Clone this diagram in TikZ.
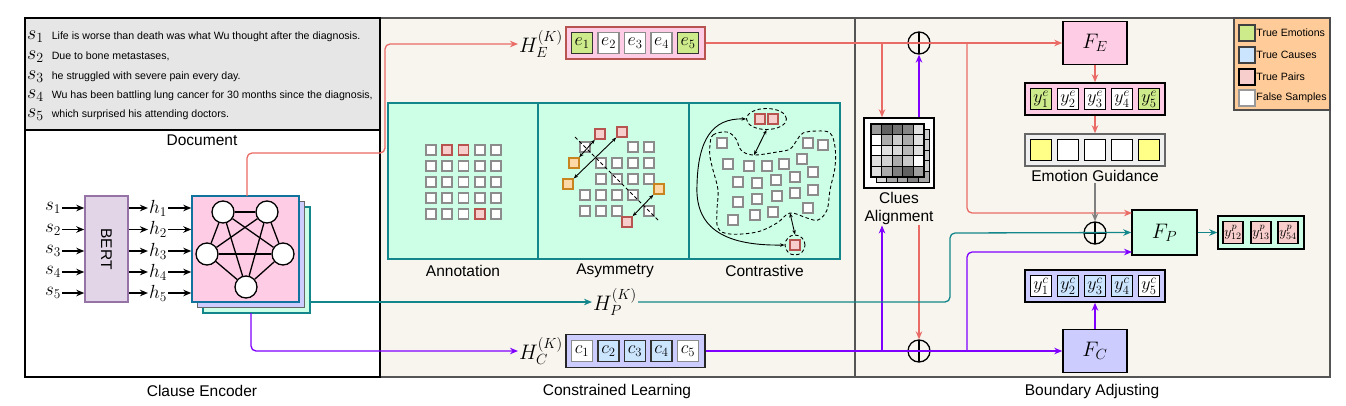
\documentclass[tikz,border=0pt]{standalone}
\usepackage{fix-cm}
\usepackage{fontspec}
\setmainfont{Liberation Sans}
\usetikzlibrary{arrows.meta,shapes.geometric}

\definecolor{redl}{HTML}{EA6B66}
\definecolor{purl}{HTML}{7F00FF}
\definecolor{teall}{HTML}{12868A}
\definecolor{beigef}{HTML}{F8F5EE}
\definecolor{docg}{HTML}{E6E6E6}
\definecolor{mintf}{HTML}{CCFFE6}
\definecolor{pinkf}{HTML}{FFCCE6}
\definecolor{lavf}{HTML}{CCCCFF}
\definecolor{greenf}{HTML}{CDEB8B}
\definecolor{bluef}{HTML}{CCE5FF}
\definecolor{pairf}{HTML}{F8CECC}
\definecolor{paird}{HTML}{B85450}
\definecolor{oranf}{HTML}{FFD8A8}
\definecolor{orand}{HTML}{C8841E}
\definecolor{bertf}{HTML}{E1D5E7}
\definecolor{bertd}{HTML}{9673A6}
\definecolor{legf}{HTML}{FFCC99}
\definecolor{yelf}{HTML}{FFFF88}
\definecolor{gnnd}{HTML}{10739E}
\definecolor{frameg}{HTML}{555555}
\definecolor{egf}{HTML}{EFEFEF}

\newcommand{\mysl}[1]{{\fontsize{20}{20}\selectfont$s_{#1}$}\hspace{8pt}}

\begin{document}
\begin{tikzpicture}[x=1pt,y=-1pt,
  lbl/.style={font=\fontsize{15.5}{17}\selectfont, inner sep=1pt},
  mth/.style={font=\fontsize{19}{19}\selectfont, inner sep=1pt},
  hl/.style={font=\fontsize{21}{21}\selectfont, inner sep=1pt},
  doct/.style={font=\fontsize{10.6}{12}\selectfont, anchor=west, inner sep=0pt},
  arr/.style={-{Stealth[length=8pt,width=6.5pt]}, line width=1.3pt},
  dbl/.style={{Stealth[length=4.5pt,width=3.5pt]}-{Stealth[length=4.5pt,width=3.5pt]}, line width=0.9pt},
  box/.style={rectangle, inner sep=0, line width=1.5pt},
  bsq/.style={rectangle, minimum size=21pt, inner sep=0, line width=1.5pt, draw=black!85, font=\fontsize{18}{18}\selectfont},
  ss/.style={rectangle, minimum size=10pt, inner sep=0, line width=1.6pt, draw=black!45, fill=white},
  sp/.style={ss, draw=paird, fill=pairf},
  so/.style={ss, draw=orand, fill=oranf},
  gnode/.style={circle, minimum size=22pt, inner sep=0, draw, line width=1.3pt, fill=white},
  oplus/.style={circle, minimum size=22pt, inner sep=0, draw, line width=1.3pt,
    path picture={\draw[line width=1.3pt] (path picture bounding box.north) -- (path picture bounding box.south)
      (path picture bounding box.west) -- (path picture bounding box.east);}},
  dsh/.style={dash pattern=on 3.5pt off 2.5pt, line width=0.9pt},
  leglbl/.style={font=\fontsize{10.6}{12}\selectfont, anchor=west, inner sep=0.5pt},
  lsq/.style={rectangle, minimum size=16pt, inner sep=0, line width=1.5pt},
  fbox/.style={box, draw=black, font=\fontsize{21}{21}\selectfont},
]
\fill[white] (0,0) rectangle (1346,405);
\useasboundingbox (0,0) rectangle (1346,405);

% ---------- panels ----------
\draw[frameg, fill=beigef, line width=1.5pt] (380,18) rectangle (855,377);
\draw[frameg, fill=beigef, line width=1.5pt] (855,18) rectangle (1330,377);
\draw[fill=docg, line width=1.2pt] (25,18) rectangle (380,130);
\draw[line width=2pt] (25,18) rectangle (380,377);

\node[lbl] (tce) at (202,391) {Clause Encoder};
\node[lbl] (tcl) at (617,391) {Constrained Learning};
\node[lbl] (tba) at (1092,391) {Boundary Adjusting};
\node[lbl] (tdoc) at (202,140) {Document};

% ---------- document ----------
\node[doct] (d1) at (27,37) {\mysl{1}Life is worse than death was what Wu thought after the diagnosis.};
\node[doct] (d2) at (27,57) {\mysl{2}Due to bone metastases,};
\node[doct] (d3) at (27,77) {\mysl{3}he struggled with severe pain every day.};
\node[doct] (d4) at (27,96) {\mysl{4}Wu has been battling lung cancer for 30 months since the diagnosis,};
\node[doct] (d5) at (27,115) {\mysl{5}which surprised his attending doctors.};

% ---------- clause encoder ----------
\node[box, draw=bertd, fill=bertf, minimum width=43pt, minimum height=106pt] (bert) at (106.5,249)
  {\rotatebox{-90}{\fontsize{15.5}{17}\selectfont BERT}};
\node[box, draw=teall, fill=mintf, minimum width=107pt, minimum height=106pt] (gC) at (256.5,260) {};
\node[box, draw=black!60, fill=lavf, minimum width=107pt, minimum height=106pt] (gB) at (251,254.5) {};
\node[box, draw=gnnd, fill=pinkf, minimum width=107pt, minimum height=106pt] (gA) at (245.5,249) {};

\node[gnode] (n1) at (223,212) {};
\node[gnode] (n2) at (267,212) {};
\node[gnode] (n3) at (207,254) {};
\node[gnode] (n4) at (283,254) {};
\node[gnode] (n5) at (246,287) {};
\foreach \a/\b in {n1/n2,n1/n3,n1/n4,n1/n5,n2/n3,n2/n4,n2/n5,n3/n4,n3/n5,n4/n5}
  \draw[line width=1.3pt] (\a) -- (\b);

\foreach \i/\y in {1/208,2/229.5,3/251,4/272,5/293} {
  \node[mth] (s\i) at (53,\y) {$s_{\i}$};
  \node[mth] (h\i) at (158,\y) {$h_{\i}$};
  \draw[arr] (s\i.east) -- (s\i.east -| bert.west);
  \draw[arr] (bert.east |- h\i.west) -- (h\i.west);
  \draw[arr] (h\i.east) -- (h\i.east -| gA.west);
}

% ---------- constrained learning ----------
\node[hl] (HE) at (541,44) {$H_E^{(K)}$};
\node[box, draw=paird, fill=pinkf, minimum width=139pt, minimum height=32pt] (ebox) at (635.5,43) {};
\foreach \i/\x/\f/\d in {1/582/greenf/black!80, 2/608.5/white/black!45, 3/635/white/black!45, 4/661.5/white/black!45, 5/688/greenf/black!80}
  \node[bsq, fill=\f, draw=\d] (e\i) at (\x,43) {$e_{\i}$};

\node[hl] (HP) at (615,302) {$H_P^{(K)}$};

\node[hl] (HC) at (541,351) {$H_C^{(K)}$};
\node[box, draw=black!85, fill=lavf, minimum width=139pt, minimum height=33pt] (cbox) at (635.5,351) {};
\foreach \i/\x/\f/\d in {1/582/white/black!45, 2/608.5/bluef/black!80, 3/635/bluef/black!80, 4/661.5/bluef/black!80, 5/688/white/black!45}
  \node[bsq, fill=\f, draw=\d] (c\i) at (\x,351) {$c_{\i}$};

\node[box, draw=teall, fill=mintf, minimum width=150pt, minimum height=156pt] (pan1) at (463,181) {};
\node[box, draw=teall, fill=mintf, minimum width=151pt, minimum height=156pt] (pan2) at (613.5,181) {};
\node[box, draw=teall, fill=mintf, minimum width=151pt, minimum height=156pt] (pan3) at (764.5,181) {};
\node[lbl] (lan) at (463,271) {Annotation};
\node[lbl] (las) at (615,271) {Asymmetry};
\node[lbl] (lco) at (764.5,271) {Contrastive};

% annotation grid
\foreach \r in {0,...,4} {
  \foreach \c in {0,...,4} {
    \tikzset{cur/.style=ss}
    \ifnum\r\c=1 \tikzset{cur/.style=sp}\fi
    \ifnum\r\c=2 \tikzset{cur/.style=sp}\fi
    \ifnum\r\c=43 \tikzset{cur/.style=sp}\fi
    \node[cur] (an\r\c) at (431+16.25*\c,150+16*\r) {};
  }
}

% asymmetry
\foreach \r/\c in {0/0,0/3,0/4,1/1,1/2,1/3,1/4,2/1,2/2,2/3,2/4,3/0,3/1,3/2,3/3,4/0,4/1,4/2,4/4}
  \node[ss] (as\r\c) at (585+16*\c,147+16*\r) {};
\coordinate (dg1) at (575,137);
\coordinate (dg2) at (659,221);
\draw[dsh] (dg1) -- (dg2);
\node[sp] (ap1) at (600,134) {};
\node[sp] (ap2) at (622,132) {};
\node[sp] (ap3) at (627,222) {};
\node[so] (ao1) at (574,163) {};
\node[so] (ao2) at (568,184) {};
\node[so] (ao3) at (659,189) {};
\draw[dbl] (ap1) -- (ao1);
\draw[dbl] (ap2) -- (ao2);
\draw[dbl] (ao3) -- (ap3);

% contrastive
\draw[dsh] plot[smooth cycle, tension=0.6] coordinates {
 (710,145) (713,135) (727,132) (736,139) (741,150) (753,155) (777,152) (790,149) (797,140)
 (803,133) (817,131) (830,133) (835,147) (835,167) (830,190) (827,210) (818,220) (807,218)
 (790,213) (777,223) (757,232) (730,234) (718,228) (717,210) (718,190) (713,170) (710,157)};
\foreach \x/\y [count=\k] in {722/143, 808/143, 823/145, 728/164, 749/166, 767/166, 784/164, 802/159,
  813/172, 738/182, 757/183, 776/180, 795/177, 738/202, 757/199, 777/196, 795/193, 813/190,
  733/220, 755/215, 773/212, 808/208}
  \node[ss] (cw\k) at (\x,\y) {};
\node[sp] (cp1) at (760,119) {};
\node[sp] (cp2) at (773,119) {};
\node[sp] (cp3) at (795,245) {};
\node[ellipse, draw, dsh, minimum width=40pt, minimum height=21pt, inner sep=0] (cpe) at (766.5,119) {};
\node[circle, draw, dsh, minimum size=20pt, inner sep=0] (cpc) at (795,245) {};
\coordinate (bl1) at (754,155);
\coordinate (bl2) at (790,213);
\draw[dbl] (cpe.south) -- (bl1);
\draw[dbl] (bl2) -- (cpc.north);
\draw[dbl] (cpc.west) .. controls (720,246) and (695,225) .. (697,185) .. controls (698,140) and (712,118) .. (cpe.west);

% ---------- boundary adjusting ----------
\node[box, draw=black, fill=white, minimum size=70pt] (clues) at (899,153) {};
\foreach \row [count=\r from 0] in {{30,35,25,40,20},{20,15,35,25,20},{25,35,20,30,20},{15,30,25,40,20},{15,35,35,50,35}} {
  \foreach \v [count=\c from 0] in \row {
    \draw[fill=black!\v, line width=0.8pt] (876+10.6*\c,129+10.6*\r) rectangle +(10.6,10.6);
  }
}
\foreach \row [count=\r from 0] in {{40,62,55,48,12},{0,33,20,33,12},{0,12,15,28,12},{12,18,33,22,0},{12,33,50,62,38}} {
  \foreach \v [count=\c from 0] in \row {
    \draw[fill=black!\v, line width=1.2pt] (871+10.6*\c,124+10.6*\r) rectangle +(10.6,10.6);
  }
}
\node[lbl] (clu1) at (899,198) {Clues};
\node[lbl] (clu2) at (899,217) {Alignment};

\node[oplus] (op1) at (919,43) {};
\node[oplus] (op2) at (919,351) {};
\node[oplus] (op3) at (1095,233) {};

\node[fbox, fill=pinkf, minimum width=64pt, minimum height=43pt] (FE) at (1095,43) {$F_E$};
\node[box, draw=black, fill=pinkf, minimum width=140pt, minimum height=32pt] (yebox) at (1095,99) {};
\foreach \i/\x/\f in {1/1041/greenf, 2/1068/white, 3/1095/white, 4/1122/white, 5/1149/greenf}
  \node[bsq, fill=\f, draw=black] (ye\i) at (\x,99) {$y^e_{\i}$};
\node[box, draw=black!60, fill=egf, minimum width=140pt, minimum height=32pt] (egbox) at (1095,150) {};
\foreach \i/\x/\f in {1/1041/yelf, 2/1068/white, 3/1095/white, 4/1122/white, 5/1149/yelf}
  \node[bsq, fill=\f, draw=black] (eg\i) at (\x,150) {};
\node[lbl] (eglbl) at (1095,176) {Emotion Guidance};

\node[fbox, fill=mintf, minimum width=65pt, minimum height=45pt] (FP) at (1164.5,232.5) {$F_P$};
\node[box, draw=black, fill=mintf, minimum width=86pt, minimum height=33pt] (ypbox) at (1261,232.5) {};
\foreach \i/\x/\t in {1/1233/{12}, 2/1261/{13}, 3/1288/{54}}
  \node[bsq, fill=pairf, draw=black, minimum width=20pt, minimum height=22pt, font=\fontsize{14}{14}\selectfont] (yp\i) at (\x,232.5) {$y^p_{\t}$};

\node[box, draw=black, fill=lavf, minimum width=140pt, minimum height=32pt] (ycbox) at (1095,286) {};
\foreach \i/\x/\f in {1/1041/white, 2/1068/bluef, 3/1095/bluef, 4/1122/bluef, 5/1149/white}
  \node[bsq, fill=\f, draw=black] (yc\i) at (\x,286) {$y^c_{\i}$};
\node[fbox, fill=lavf, minimum width=64pt, minimum height=43pt] (FC) at (1095,351) {$F_C$};

% legend
\node[box, draw=black!70, fill=legf, line width=1.2pt, minimum width=96pt, minimum height=92pt] (leg) at (1282,64) {};
\node[lsq, fill=greenf, draw=black!75] (lg1) at (1247,33) {};
\node[lsq, fill=bluef, draw=black!75] (lg2) at (1247,55) {};
\node[lsq, fill=pairf, draw=black] (lg3) at (1247,77) {};
\node[lsq, fill=white, draw=black!40] (lg4) at (1247,98) {};
\node[leglbl] (lt1) at (lg1.east) {True Emotions};
\node[leglbl] (lt2) at (lg2.east) {True Causes};
\node[leglbl] (lt3) at (lg3.east) {True Pairs};
\node[leglbl] (lt4) at (lg4.east) {False Samples};

% ---------- connectors ----------
\coordinate (rs) at (247,196);
\coordinate (ps) at (251,313);
\coordinate (xa) at (882,0);
\coordinate (xb) at (967,0);
\coordinate (xt) at (950,0);
\coordinate (fpr) at (1132,213);
\coordinate (fpp) at (1132,252);

\draw[arr, redl, rounded corners=5pt] (rs) |- (385,153) |- (HE.west);
\draw[arr, teall] (gC.east |- HP.west) -- (HP.west);
\draw[arr, purl, rounded corners=5pt] (ps) |- (HC.west);

\draw[arr, redl] (ebox.east) -- (FE.west);
\draw[arr, redl] (ebox.east -| xa) -- (clues.north -| xa);
\draw[arr, redl, rounded corners=5pt] (ebox.east -| xb) |- (fpr);
\draw[arr, purl] (clues.north -| op1) -- (op1.south);
\draw[arr, purl] (cbox.east) -- (FC.west);
\draw[arr, purl] (cbox.east -| xa) -- (clu2.south -| xa);
\draw[arr, purl, rounded corners=5pt] (cbox.east -| xb) |- (fpp);
\draw[arr, redl] (clu2.south -| op2) -- (op2.north);
\draw[arr, teall, rounded corners=5pt] (HP.east) -| (xt |- op3) -- (FP.west);

\draw[arr, redl] (FE.south) -- (yebox.north);
\draw[arr, redl] (yebox.south) -- (egbox.north);
\draw[arr, black!50] (eglbl.south) -- (op3.north);
\draw[arr, purl] (FC.north) -- (ycbox.south);
\draw[arr, teall] (FP.east) -- (ypbox.west);
\end{tikzpicture}
\end{document}
